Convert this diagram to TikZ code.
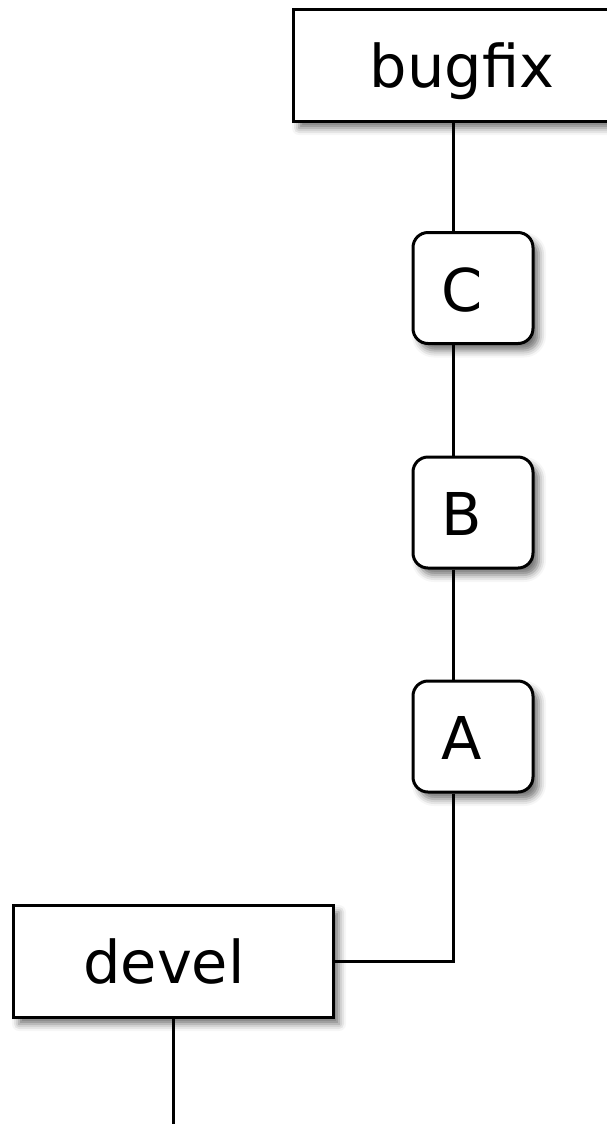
\documentclass[tikz,border=0pt]{standalone}
\usepackage{fontspec}
\setmainfont{DejaVu Sans}
\usetikzlibrary{shadows.blur}
\begin{document}
\begin{tikzpicture}[x=1pt,y=-1pt,
  conn/.style={line width=3pt},
  shadowstyle/.style={blur shadow={shadow xshift=6pt, shadow yshift=-7pt, shadow blur radius=7pt, shadow opacity=55}},
  branchbox/.style={draw, line width=3pt, fill=white, inner sep=0pt,
    minimum width=320pt, minimum height=112pt, shadowstyle},
  commitbox/.style={draw, line width=3pt, fill=white, inner sep=0pt, rounded corners=15pt,
    minimum width=120pt, minimum height=111pt, shadowstyle},
  lbl/.style={anchor=base, inner sep=0pt, font=\fontsize{59}{61}\selectfont}]
\useasboundingbox (0,0) rectangle (606,1128);
% boxes
\node[branchbox] (bugfix) at (453,65) {};
\node[commitbox] (C) at (473,288) {};
\node[commitbox] (B) at (473,512.5) {};
\node[commitbox] (A) at (473,736.5) {};
\node[branchbox] (devel) at (173,961) {};
\coordinate (end) at (173,1124);
\coordinate (bend) at (453,961);
% labels
\node[lbl] (tbugfix) at (462,87) {bugfix};
\node[lbl] (tC) at (462,311) {C};
\node[lbl] (tB) at (462,535) {B};
\node[lbl] (tA) at (462,759) {A};
\node[lbl] (tdevel) at (164,983) {devel};
% connectors
\draw[conn] (bugfix.south) -- (bugfix.south |- C.north);
\draw[conn] (bugfix.south |- C.south) -- (bugfix.south |- B.north);
\draw[conn] (bugfix.south |- B.south) -- (bugfix.south |- A.north);
\draw[conn] (bugfix.south |- A.south) -- (bend) -- (devel.east);
\draw[conn] (devel.south) -- (end);
\end{tikzpicture}
\end{document}
